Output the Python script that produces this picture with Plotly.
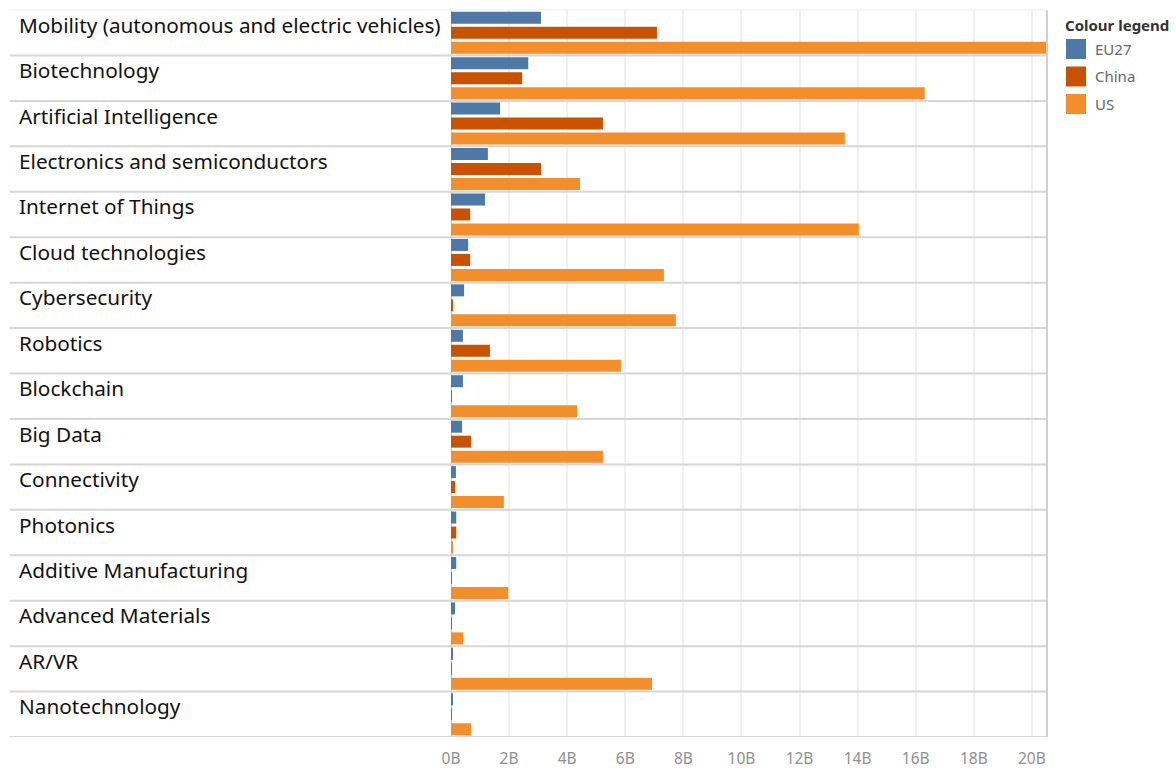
import plotly.graph_objects as go

# Technology areas, top to bottom
categories = [
    "Mobility (autonomous and electric vehicles)",
    "Biotechnology",
    "Artificial Intelligence",
    "Electronics and semiconductors",
    "Internet of Things",
    "Cloud technologies",
    "Cybersecurity",
    "Robotics",
    "Blockchain",
    "Big Data",
    "Connectivity",
    "Photonics",
    "Additive Manufacturing",
    "Advanced Materials",
    "AR/VR",
    "Nanotechnology",
]

# Investment, billions
eu27 = [3.10, 2.66, 1.69, 1.27, 1.17, 0.59, 0.45, 0.41, 0.41, 0.38,
        0.17, 0.18, 0.18, 0.14, 0.07, 0.07]
china = [7.09, 2.45, 5.23, 3.10, 0.66, 0.66, 0.07, 1.34, 0.03, 0.69,
         0.14, 0.18, 0.03, 0.03, 0.03, 0.03]
us = [20.5, 16.31, 13.56, 4.44, 14.04, 7.33, 7.74, 5.85, 4.34, 5.23,
      1.82, 0.07, 1.97, 0.42, 6.92, 0.69]

series_names = ["EU27", "China", "US"]
series_colors = ["#4e79a7", "#c85200", "#f28e2b"]

tick_values = [0, 2, 4, 6, 8, 10, 12, 14, 16, 18, 20]
tick_labels = [f"{v}B" for v in tick_values]

# Page geometry (pixels)
W, H = 1176, 771
PL, PR, PT, PB = 451, 1047, 10, 737
PW, PH = PR - PL, PB - PT


def px_x(x):
    return (x - PL) / PW


def px_y(y):
    return (PB - y) / PH


fig = go.Figure()
for name, vals, col in zip(series_names, [eu27, china, us], series_colors):
    fig.add_trace(go.Bar(
        y=categories, x=vals, name=name, orientation="h",
        marker=dict(color=col, line=dict(width=0)),
        hoverinfo="skip", showlegend=False,
    ))

shapes = []
annotations = []

# Row separators across the header and pane
n = len(categories)
shapes.append(dict(type="line", xref="paper", yref="paper",
                   x0=px_x(10), x1=1, y0=1, y1=1,
                   line=dict(color="#ececec", width=1), layer="above"))
for i in range(n):
    shapes.append(dict(type="line", xref="paper", yref="y",
                       x0=px_x(10), x1=1, y0=i + 0.5, y1=i + 0.5,
                       line=dict(color="#d6d6d6", width=2), layer="above"))
# Right border of the pane
shapes.append(dict(type="line", xref="paper", yref="paper",
                   x0=1, x1=1, y0=0, y1=1,
                   line=dict(color="#d0d0d0", width=2), layer="above"))

# Row headers
for i, cat in enumerate(categories):
    annotations.append(dict(
        text=cat, xref="paper", yref="y", x=px_x(17), y=i,
        xanchor="left", yanchor="middle", yshift=8, showarrow=False,
        font=dict(family="Noto Sans", size=20.75, color="#111111"),
    ))

# Colour legend
annotations.append(dict(
    text="<b>Colour legend</b>", xref="paper", yref="paper",
    x=px_x(1063), y=px_y(25), xanchor="left", yanchor="middle",
    showarrow=False, font=dict(family="Noto Sans", size=15, color="#333333"),
))
for k, (name, col) in enumerate(zip(series_names, series_colors)):
    top = 39 + k * 27.5
    shapes.append(dict(type="rect", xref="paper", yref="paper",
                       x0=px_x(1066), x1=px_x(1086),
                       y0=px_y(top + 20), y1=px_y(top),
                       fillcolor=col, line=dict(width=0), layer="above"))
    annotations.append(dict(
        text=name, xref="paper", yref="paper",
        x=px_x(1093), y=px_y(top + 10), xanchor="left", yanchor="middle",
        showarrow=False, font=dict(family="Noto Sans", size=15, color="#666666"),
    ))

fig.update_layout(
    width=W, height=H,
    margin=dict(l=PL, r=W - PR, t=PT, b=H - PB, pad=0, autoexpand=False),
    paper_bgcolor="white", plot_bgcolor="white",
    barmode="group", bargap=0.01, bargroupgap=0.2,
    shapes=shapes, annotations=annotations,
    showlegend=False,
    xaxis=dict(
        range=[0, 20.52], tickvals=tick_values, ticktext=tick_labels,
        showgrid=True, gridcolor="#f0f0f0", gridwidth=2,
        zeroline=True, zerolinecolor="#c4c4c4", zerolinewidth=1,
        ticks="outside", ticklen=7, tickcolor="rgba(0,0,0,0)",
        tickfont=dict(family="Noto Sans", size=15.5, color="#8f8f8f"),
        showline=False, fixedrange=True, automargin=False,
    ),
    yaxis=dict(
        range=[n - 0.5, -0.5], showticklabels=False, ticks="",
        showgrid=False, zeroline=False, showline=False, fixedrange=True,
        automargin=False,
    ),
)

fig.write_html("out.html")
